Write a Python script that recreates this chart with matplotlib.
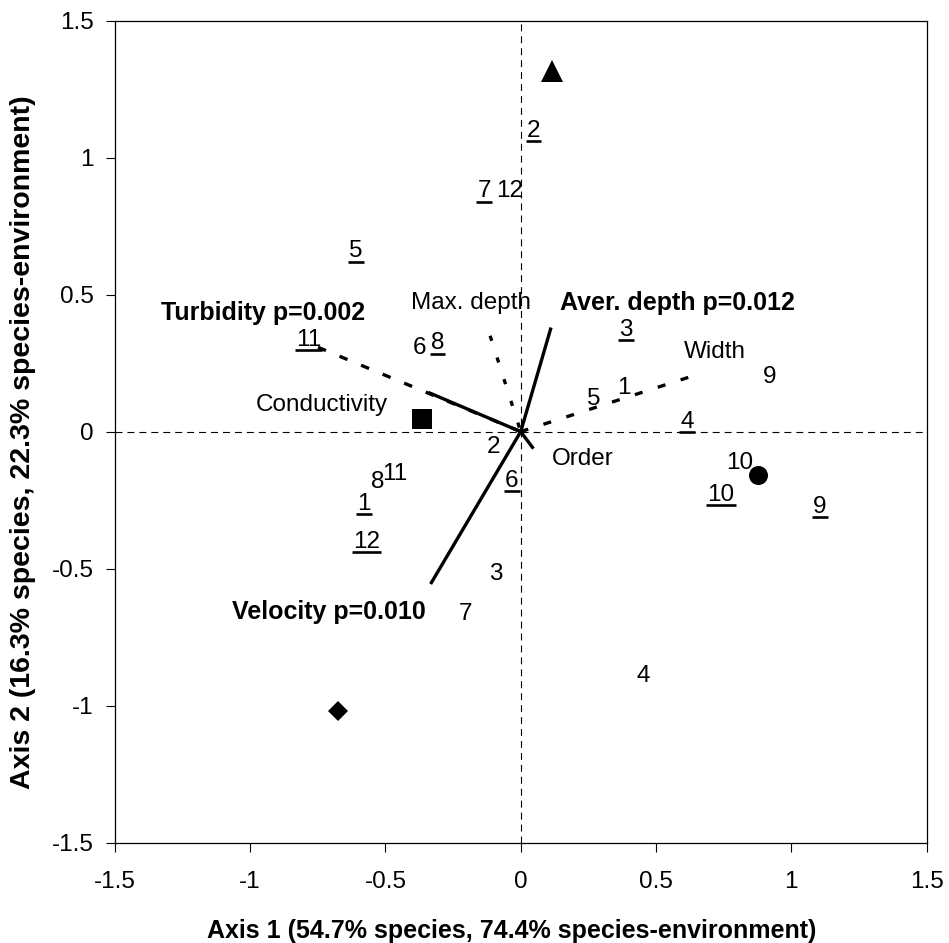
import matplotlib
matplotlib.use("Agg")
from matplotlib import pyplot as plt

plt.rcParams['font.family'] = ['Liberation Sans', 'DejaVu Sans']
plt.rcParams['lines.scale_dashes'] = False

# site scores (plain numbers)
site_labels = ["12", "6", "9", "5", "1", "2", "10", "8", "11", "3", "7", "4"]
site_x = [-0.042, -0.375, 0.918, 0.268, 0.382, -0.099, 0.810, -0.528, -0.464, -0.092, -0.203, 0.453]
site_y = [0.886, 0.313, 0.210, 0.130, 0.167, -0.046, -0.107, -0.174, -0.144, -0.510, -0.658, -0.884]

# site scores (underlined numbers)
under_labels = ["2", "7", "5", "11", "8", "3", "4", "6", "10", "9", "1", "12"]
under_x = [0.047, -0.135, -0.608, -0.785, -0.308, 0.389, 0.615, -0.033, 0.740, 1.106, -0.579, -0.569]
under_y = [1.106, 0.886, 0.667, 0.344, 0.331, 0.380, 0.045, -0.172, -0.223, -0.266, -0.254, -0.394]

# group centroids
group_x = [0.117, -0.366, 0.875, -0.674]
group_y = [1.316, 0.048, -0.159, -1.019]

# environmental variable arrows (tips)
env_names = ["Aver. depth", "Velocity", "Conductivity", "Turbidity", "Order", "Width", "Max. depth"]
env_x = [0.112, -0.333, -0.341, -0.749, 0.047, 0.619, -0.113]
env_y = [0.380, -0.556, 0.143, 0.308, -0.062, 0.198, 0.350]

# arrow captions
caption_text = ["Turbidity p=0.002", "Max. depth", "Aver. depth p=0.012", "Width",
                "Conductivity", "Order", "Velocity p=0.010"]
caption_x = [-0.952, -0.184, 0.579, 0.717, -0.735, 0.230, -0.707]
caption_y = [0.441, 0.478, 0.478, 0.301, 0.106, -0.091, -0.650]
caption_bold = [True, False, True, False, False, False, True]

ticks = [-1.5, -1, -0.5, 0, 0.5, 1, 1.5]
tick_labels = ["-1.5", "-1", "-0.5", "0", "0.5", "1", "1.5"]

fig = plt.figure(figsize=(9.49, 9.43), dpi=100)
ax = fig.add_axes([0.1209, 0.1064, 0.8556, 0.8717])
ax.set_xlim(-1.5, 1.5)
ax.set_ylim(-1.5, 1.5)

# zero reference lines
ax.axhline(0, color="black", lw=0.8, dashes=(5, 3.6), zorder=1)
ax.axvline(0, color="black", lw=0.8, dashes=(5, 3.6), zorder=1)

line_styles = {
    "Aver. depth": dict(ls="-"),
    "Velocity": dict(ls="-"),
    "Conductivity": dict(ls="-"),
    "Turbidity": dict(dashes=(6.2, 10.6)),
    "Order": dict(ls="-"),
    "Width": dict(dashes=(5.8, 11.5)),
    "Max. depth": dict(dashes=(3.8, 12.6)),
}
for name, x, y in zip(env_names, env_x, env_y):
    # drawn tip -> origin so dashes start at the tip
    ax.plot([x, 0], [y, 0], color="black", lw=2.4, solid_capstyle="butt",
            dash_capstyle="butt", zorder=3, **line_styles[name])

for x, y, m, s in zip(group_x, group_y, ["^", "s", "o", "D"], [15.6, 14.4, 13.7, 10.2]):
    ax.plot(x, y, marker=m, ms=s, color="black", mew=0, ls="none", zorder=4)

for lab, x, y in zip(site_labels, site_x, site_y):
    ax.text(x, y, lab, fontsize=17.5, ha="center", va="center_baseline", zorder=5)

under_texts = []
for lab, x, y in zip(under_labels, under_x, under_y):
    t = ax.text(x, y, lab, fontsize=17.5, ha="center", va="center_baseline", zorder=5)
    under_texts.append(t)

for lab, x, y, b in zip(caption_text, caption_x, caption_y, caption_bold):
    ax.text(x, y, lab, fontsize=18 if b else 17.5, fontweight="bold" if b else "normal",
            ha="center", va="center_baseline", zorder=5)

ax.set_xticks(ticks)
ax.set_xticklabels(tick_labels)
ax.set_yticks(ticks)
ax.set_yticklabels(tick_labels)
ax.tick_params(direction="out", length=6.5, width=0.8, labelsize=17.5, color="black")
ax.tick_params(axis="x", pad=14)
ax.tick_params(axis="y", pad=8.6)
for sp in ax.spines.values():
    sp.set_linewidth(0.9)
    sp.set_color("black")

fig.text(512 / 949, 1 - 931 / 943, "Axis 1 (54.7% species, 74.4% species-environment)",
         fontsize=18, fontweight="bold", ha="center", va="center")
fig.text(23 / 949, 1 - 442 / 943, "Axis 2 (16.3% species, 22.3% species-environment)",
         fontsize=20.5, fontweight="bold", ha="center", va="center", rotation=90)

# underline the second set of site numbers
fig.canvas.draw()
renderer = fig.canvas.get_renderer()
inv = ax.transData.inverted()
for t in under_texts:
    bb = t.get_window_extent(renderer)
    (x0, y0), (x1, _) = inv.transform([(bb.x0 - 1, bb.y0 + 0.8), (bb.x1 + 1, bb.y0 + 0.8)])
    ax.plot([x0, x1], [y0, y0], color="black", lw=1.9, solid_capstyle="butt", zorder=5)

fig.savefig("out.png", dpi=100)
